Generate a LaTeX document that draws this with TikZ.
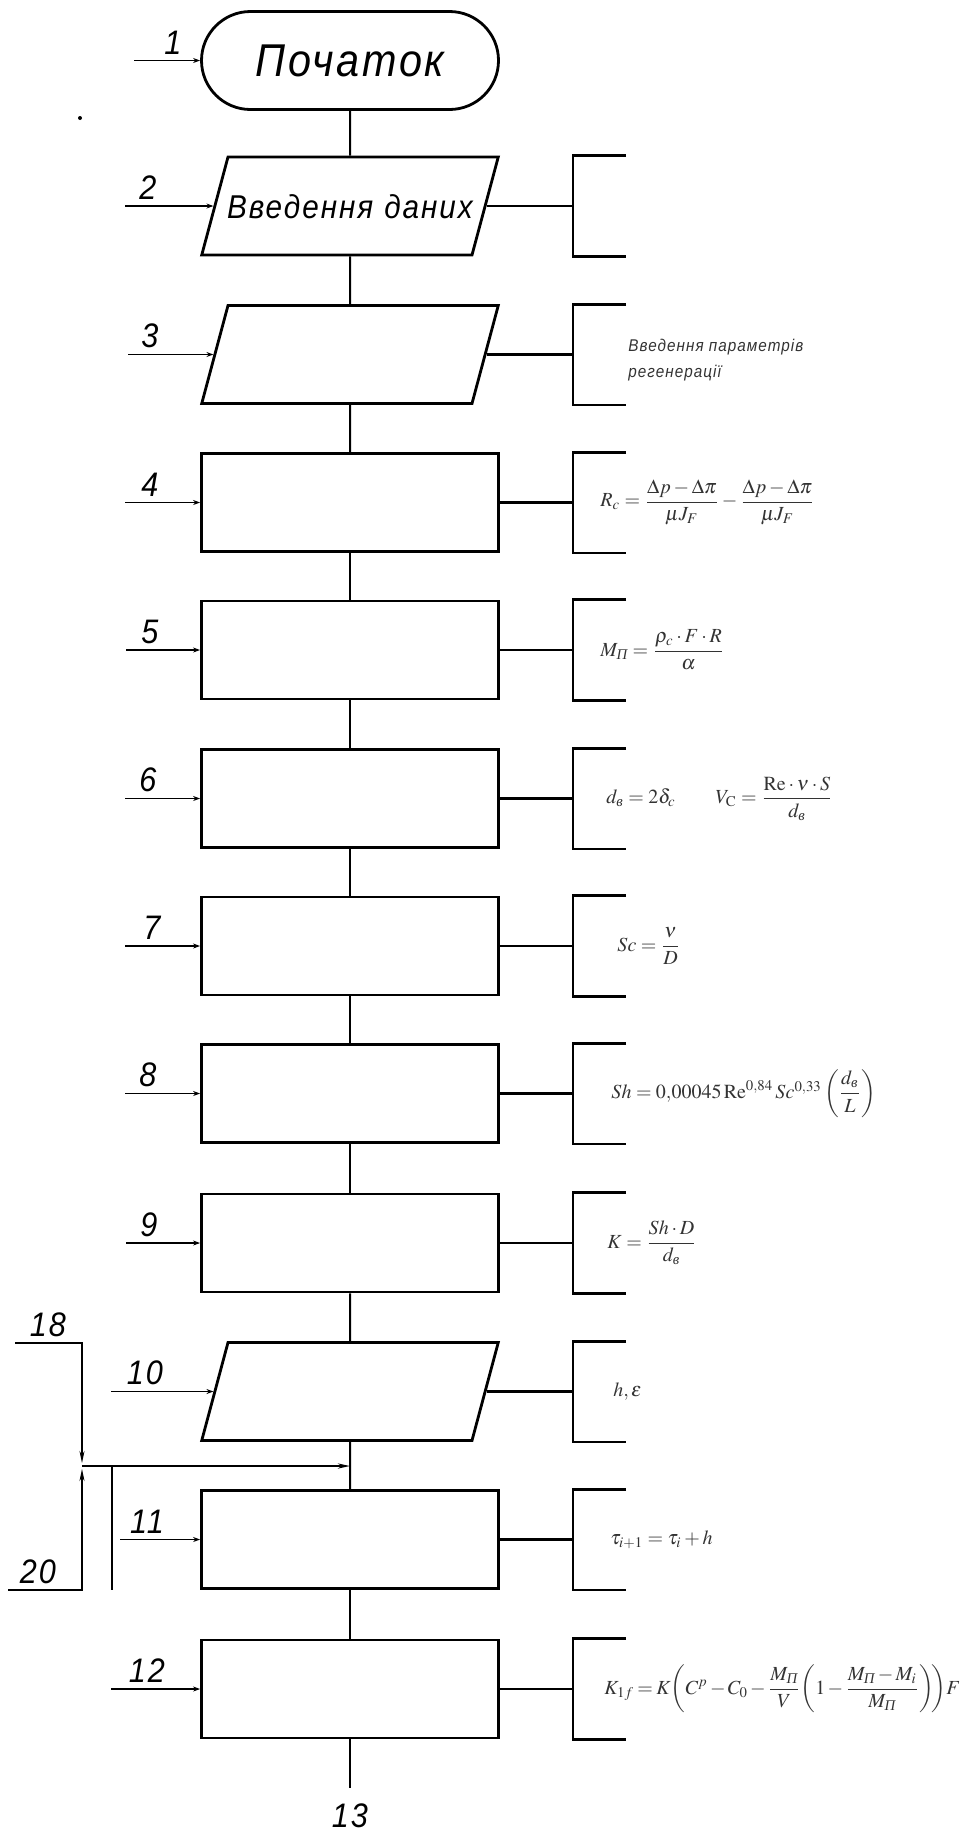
\documentclass[tikz,border=0pt]{standalone}
\usepackage{amsmath}
\usepackage{mathptmx}
\usepackage{fontspec}
\setmainfont{Liberation Serif}
\newfontfamily\gostfont[FakeStretch=0.9,LetterSpace=6]{Liberation Sans}
\usetikzlibrary{shapes.geometric,shapes.misc,calc,arrows.meta}

\newcommand{\cyrv}{\text{\itshape в}}
\newcommand{\cyrP}{\text{\itshape П}}

\tikzset{
  blk/.style={draw,line width=1.4pt,minimum width=148.5pt,minimum height=49pt,inner sep=0pt},
  procbox/.style={blk,rectangle},
  iobox/.style={draw,line width=1.4pt,trapezium,trapezium left angle=75,trapezium right angle=105,
    inner xsep=0pt,inner ysep=2pt,text width=122pt,align=center,text height=28.5pt,text depth=16.5pt},
  termbox/.style={blk,rounded rectangle},
  flow/.style={line width=1pt},
  brk/.style={line width=1.4pt},
  lbl/.style={line width=0.7pt},
  num/.style={font=\gostfont\itshape\fontsize{17}{20}\selectfont,inner sep=0pt},
  fml/.style={font=\fontsize{10}{12}\selectfont,text=black!80,anchor=west,inner sep=0pt},
}

\begin{document}
\begin{tikzpicture}[x=0.5pt,y=-0.5pt,>={Stealth[length=6pt,width=2.5pt]}]
\useasboundingbox (0,0) rectangle (966,1833);

% blocks of the scheme
\node[termbox,font=\gostfont\itshape\fontsize{23}{26}\selectfont] (term) at (350,60.5) {Початок};
\node[iobox,font=\gostfont\itshape\fontsize{16.5}{19}\selectfont] (in2) at (350,206) {\hbox to 122pt{\hss Введення даних\hss}};
\node[iobox] (in3) at (350,354.5) {};
\node[procbox] (p4) at (350,502.5) {};
\node[procbox] (p5) at (350,650) {};
\node[procbox] (p6) at (350,798.5) {};
\node[procbox] (p7) at (350,946) {};
\node[procbox] (p8) at (350,1093.5) {};
\node[procbox] (p9) at (350,1243) {};
\node[iobox] (in10) at (350,1391.5) {};
\node[procbox] (p11) at (350,1539.5) {};
\node[procbox] (p12) at (350,1689) {};
\coordinate (end13) at (350,1788);

\foreach \a/\b in {term/in2,in2/in3,in3/p4,p4/p5,p5/p6,p6/p7,p7/p8,p8/p9,p9/in10,in10/p11,p11/p12}
  \draw[flow] (\a) -- (\b);
\draw[flow] (p12) -- (end13);
\node[num] (n13) at (350,1816) {13};

% comment brackets
\coordinate (brx) at (573,0);
\foreach \b in {in2,in3,p4,p5,p6,p7,p8,p9,in10,p11,p12}{
  \draw[brk] (\b.east) -- (\b.east -| brx);
  \draw[brk] ($(\b.north -| brx)+(53,0)$) -- (\b.north -| brx) -- (\b.south -| brx) -- ++(53,0);
}

% numbers of blocks
\foreach \b/\sx/\tx/\lab in {term/134/173/1,in2/125/148/2,in3/128/150/3,p4/125/150/4,p5/126/150/5,
    p6/125/148/6,p7/125/152/7,p8/125/148/8,p9/126/149/9,in10/111/145/10,p11/120/147/11,p12/111/147/12}{
  \coordinate (s) at (\sx,0);
  \coordinate (t) at (\tx,0);
  \draw[lbl,-{Stealth[length=3.5pt,width=2.5pt]}] (\b.west -| s) -- (\b.west);
  \path (\b.west -| t) node[num,above=3pt] {\lab};
}
\fill (80,118) circle (1pt);

% loop entry
\coordinate (l18) at (15,1343);
\coordinate (k18) at (82,1343);
\coordinate (jt) at (82,1463);
\coordinate (jn) at (82,1466);
\coordinate (jb) at (82,1469);
\coordinate (l20) at (8,1590);
\coordinate (k20) at (82,1590);
\coordinate (w20) at (112,1590);
\coordinate (jm) at (in10.south |- jn);
\draw[lbl,->] (l18) -- (k18) -- (jt);
\draw[lbl,->] (l20) -- (k20) -- (jb);
\draw[flow,->] (jn) -- (jm);
\draw[flow] (jn -| w20) -- (w20);
\node[num] (n18) at (48,1325) {18};
\node[num] (n20) at (38,1572) {20};

% texts in brackets
\node[anchor=west,align=left,inner sep=0pt,text=black!80,font=\gostfont\itshape\fontsize{8.5}{13}\selectfont] (c3) at (628,360) {Введення параметрів\\регенерації};
\node[fml] (c4) at (600,502.5) {$R_c=\dfrac{\Delta p-\Delta\pi}{\mu J_F}-\dfrac{\Delta p-\Delta\pi}{\mu J_F}$};
\node[fml] (c5) at (600,650) {$M_{\cyrP}=\dfrac{\rho_c\cdot F\cdot R}{\alpha}$};
\node[fml] (c6) at (606,798.5) {$d_{\cyrv}=2\delta_c\qquad V_{\mathrm{C}}=\dfrac{\mathrm{Re}\cdot\nu\cdot S}{d_{\cyrv}}$};
\node[fml] (c7) at (617,946) {$Sc=\dfrac{\nu}{D}$};
\node[fml] (c8) at (611,1093.5) {$Sh=0{,}00045\,\mathrm{Re}^{0{,}84}\,Sc^{0{,}33}\left(\dfrac{d_{\cyrv}}{L}\right)$};
\node[fml] (c9) at (607,1243) {$K=\dfrac{Sh\cdot D}{d_{\cyrv}}$};
\node[fml] (c10) at (613,1392) {$h,\varepsilon$};
\node[fml] (c11) at (610,1539.5) {$\tau_{i+1}=\tau_i+h$};
\node[fml] (c12) at (604,1689) {$\medmuskip=2mu\thickmuskip=3mu K_{1f}=K\!\left(C^p-C_0-\dfrac{M_{\cyrP}}{V}\!\left(1-\dfrac{M_{\cyrP}-M_i}{M_{\cyrP}}\right)\!\right)\!F$};
\end{tikzpicture}
\end{document}
